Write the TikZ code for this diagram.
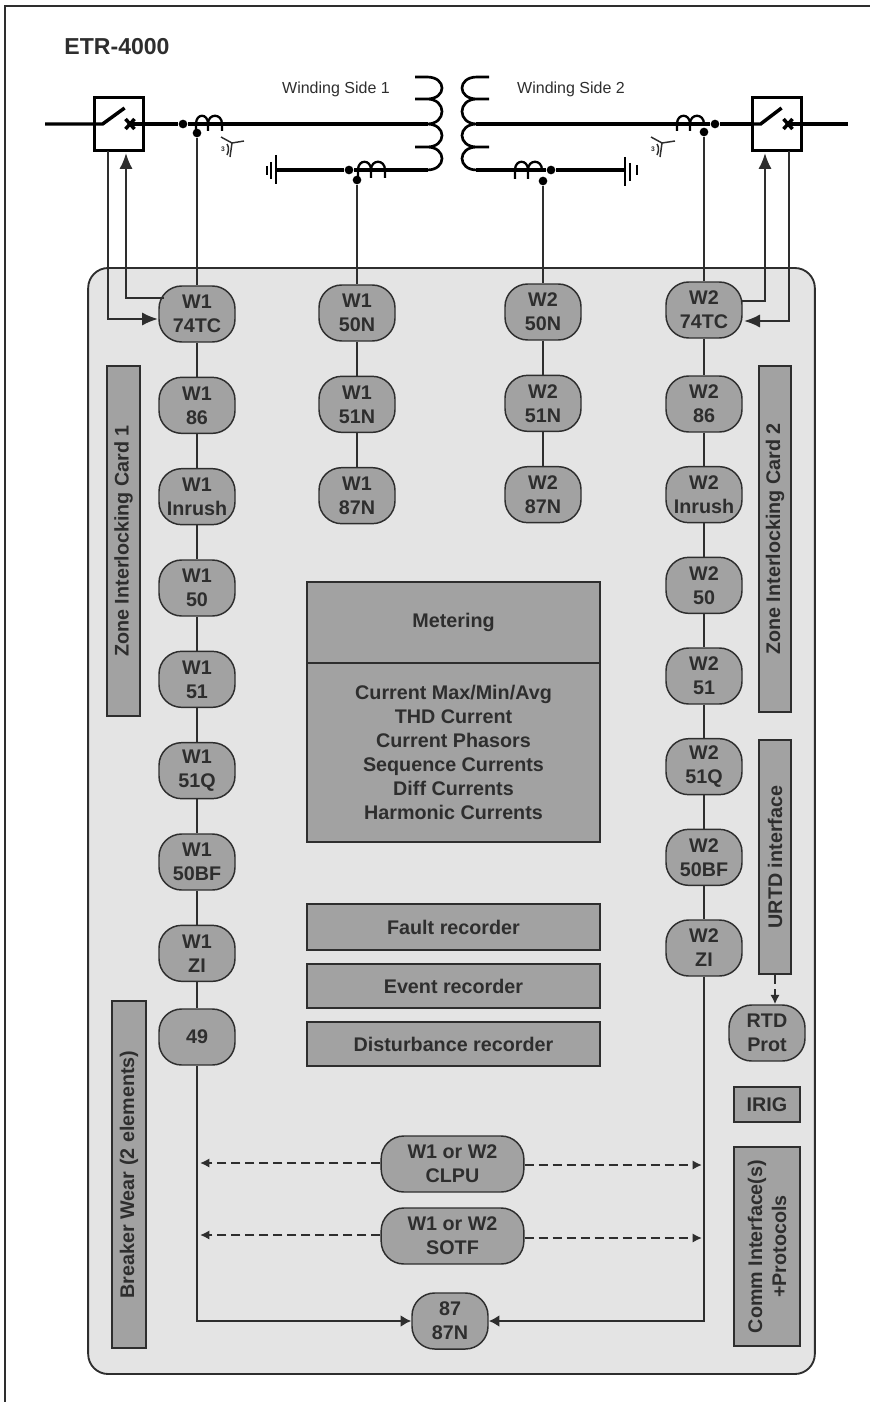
\documentclass[tikz,border=0pt]{standalone}
\usepackage{fontspec}
\setmainfont{Liberation Sans}
\usepackage{xcolor}
\usetikzlibrary{arrows.meta}
\definecolor{ink}{HTML}{2E2E2E}
\definecolor{boxgray}{HTML}{A2A2A2}
\definecolor{panelgray}{HTML}{E4E4E4}

\begin{document}
\begin{tikzpicture}[x=0.75pt, y=-0.75pt, node distance=68.5pt, color=ink, text=ink]
    \tikzstyle{relay} = [rectangle, rounded corners=17pt, minimum width=57pt, minimum height=42pt, inner sep=0pt, align=center, draw=ink, fill=boxgray, line width=1.1pt, font=\fontsize{14.8}{18}\selectfont\bfseries]
    \tikzstyle{wide} = [relay, minimum width=107pt]
    \tikzstyle{card} = [rectangle, inner sep=0pt, align=center, draw=ink, fill=boxgray, line width=1.6pt, font=\fontsize{14.8}{18}\selectfont\bfseries]
    \tikzstyle{breaker} = [rectangle, draw=black, fill=white, line width=2.6pt, minimum width=37pt, minimum height=40pt, inner sep=0pt]
    \tikzstyle{dot} = [circle, fill=black, inner sep=0pt, minimum size=6.5pt]
    \tikzstyle{label} = [inner sep=0pt, font=\fontsize{12}{14}\selectfont]
    \tikzstyle{bus} = [black, line width=2.6pt]
    \tikzstyle{coil} = [black, line width=2pt]
    \tikzstyle{wire} = [ink, line width=1.6pt]
    \tikzstyle{arrow} = [wire, -{Latex[length=12pt,width=10pt]}]
    \tikzstyle{diffarrow} = [wire, -{Latex[length=8pt,width=9pt]}]
    \tikzstyle{dasharrow} = [ink, line width=1.5pt, dash pattern=on 7pt off 3.5pt, -{Latex[length=7pt,width=7pt]}]

    \useasboundingbox (0,0) rectangle (870,1402);
    % page frame
    \coordinate (frameA) at (5,1402);
    \coordinate (frameB) at (5,6);
    \coordinate (frameC) at (870,6);
    \draw [ink, line width=1pt] (frameA) -- (frameB) -- (frameC);
    \node (title) [inner sep=0pt, font=\fontsize{17.3}{20}\selectfont\bfseries] at (117,47) {ETR-4000};

    % relay panel
    \node (panel) [rectangle, rounded corners=15pt, draw=ink, fill=panelgray, line width=1.4pt, minimum width=545pt, minimum height=829.5pt, inner sep=0pt] at (451.5,821) {};

    % winding 1 column
    \node (wAtc) [relay] at (197,314) {W1\\74TC};
    \node (wAeightsix) [relay, below of=wAtc] {W1\\86};
    \node (wAinrush) [relay, below of=wAeightsix] {W1\\Inrush};
    \node (wAfifty) [relay, below of=wAinrush] {W1\\50};
    \node (wAfiftyone) [relay, below of=wAfifty] {W1\\51};
    \node (wAq) [relay, below of=wAfiftyone] {W1\\51Q};
    \node (wAbf) [relay, below of=wAq] {W1\\50BF};
    \node (wAzi) [relay, below of=wAbf] {W1\\ZI};
    \node (thermal) [relay] at (197,1037) {49};

    % neutral columns
    \node (wAn) [relay] at (357,313) {W1\\50N};
    \node (wAnt) [relay, below of=wAn] {W1\\51N};
    \node (wAnd) [relay, below of=wAnt] {W1\\87N};
    \node (wBn) [relay] at (543,312) {W2\\50N};
    \node (wBnt) [relay, below of=wBn] {W2\\51N};
    \node (wBnd) [relay, below of=wBnt] {W2\\87N};

    % winding 2 column
    \node (wBtc) [relay] at (704,310) {W2\\74TC};
    \begin{scope}[node distance=68pt]
    \node (wBeightsix) [relay] at (704,404) {W2\\86};
    \node (wBinrush) [relay, below of=wBeightsix] {W2\\Inrush};
    \node (wBfifty) [relay, below of=wBinrush] {W2\\50};
    \node (wBfiftyone) [relay, below of=wBfifty] {W2\\51};
    \node (wBq) [relay, below of=wBfiftyone] {W2\\51Q};
    \node (wBbf) [relay, below of=wBq] {W2\\50BF};
    \node (wBzi) [relay, below of=wBbf] {W2\\ZI};
    \end{scope}
    \node (rtd) [relay] at (767,1033) {RTD\\Prot};

    % side cards
    \node (zoneA) [card, rotate=90, minimum width=262.5pt, minimum height=24.5pt] at (123.5,541) {Zone Interlocking Card 1};
    \node (zoneB) [card, rotate=90, minimum width=259.5pt, minimum height=24pt] at (775,539) {Zone Interlocking Card 2};
    \node (urtd) [card, rotate=90, minimum width=175.5pt, minimum height=24pt] at (775,857) {URTD interface};
    \node (wear) [card, rotate=90, minimum width=260pt, minimum height=25.5pt] at (129,1174.5) {Breaker Wear (2 elements)};
    \node (irig) [card, minimum width=49.5pt, minimum height=26pt] at (767,1104.5) {IRIG};
    \node (comm) [card, rotate=90, minimum width=149pt, minimum height=49.5pt] at (767,1246.5) {Comm Interface(s)\\+Protocols};

    % centre blocks
    \node (meter) [card, minimum width=219.5pt, minimum height=61pt] at (453.5,622.5) {Metering};
    \node (meterlist) [card, minimum width=219.5pt, minimum height=134pt] at (453.5,752.5) {Current Max/Min/Avg\\THD Current\\Current Phasors\\Sequence Currents\\Diff Currents\\Harmonic Currents};
    \node (fault) [card, minimum width=219.5pt, minimum height=34.5pt] at (453.5,927) {Fault recorder};
    \node (event) [card, minimum width=219.5pt, minimum height=33pt] at (453.5,986) {Event recorder};
    \node (dist) [card, minimum width=219.5pt, minimum height=33pt] at (453.5,1044) {Disturbance recorder};

    \node (clpu) [wide] at (452.5,1164) {W1 or W2\\CLPU};
    \node (sotf) [wide] at (452.5,1236) {W1 or W2\\SOTF};
    \node (diff) [relay] at (450,1321) {87\\87N};

    % power side
    \node (brkA) [breaker] at (119,124) {};
    \node (brkB) [breaker] at (777,124) {};
    \node (dotA) [dot] at (183,124) {};
    \node (ctA) [dot] at (197,133) {};
    \node (dotB) [dot] at (715,124) {};
    \node (ctB) [dot] at (704,132) {};
    \node (dotC) [dot] at (349,170) {};
    \node (ctC) [dot] at (357,180) {};
    \node (dotD) [dot] at (551,170) {};
    \node (ctD) [dot] at (543,181) {};
    \node (sideA) [label] at (336,89) {Winding Side 1};
    \node (sideB) [label] at (571,89) {Winding Side 2};

    \coordinate (busA) at (45,124);
    \coordinate (busB) at (848,124);
    \coordinate (tripA) at (130,124);
    \coordinate (tripB) at (788,124);
    \coordinate (wdgA) at (428,124);
    \coordinate (wdgB) at (476,124);
    \coordinate (wdgC) at (428,170);
    \coordinate (wdgD) at (476,170);
    \coordinate (gndA) at (275.5,170);
    \coordinate (gndB) at (625,170);

    \draw [bus] (busA) -- (brkA.west) -- ++(10,0) -- ++(22,-16);
    \draw [bus] (tripA) -- (dotA) -- (wdgA);
    \draw [bus] (wdgC) -- (dotC) -- (gndA);
    \draw [bus] (busB) -- (tripB);
    \draw [bus] (brkB.west) -- ++(10,0) -- ++(21,-16);
    \draw [bus] (brkB.west) -- (dotB) -- (wdgB);
    \draw [bus] (wdgD) -- (dotD) -- (gndB);
    \draw [bus] (125.5,119) -- (134.5,129) (125.5,129) -- (134.5,119);
    \draw [bus] (783.5,119) -- (792.5,129) (783.5,129) -- (792.5,119);

    % transformer
    \draw [coil] (415,77) -- (427,77) .. controls (447,77) and (447,99) .. (427,99) -- (415,99)
        (427,99) .. controls (447,99) and (447,124) .. (427,124)
        .. controls (447,124) and (447,147) .. (427,147) -- (415,147)
        (427,147) .. controls (447,147) and (447,170) .. (427,170);
    \draw [coil] (489,77) -- (477,77) .. controls (457,77) and (457,99) .. (477,99) -- (489,99)
        (477,99) .. controls (457,99) and (457,124) .. (477,124)
        .. controls (457,124) and (457,147) .. (477,147) -- (489,147)
        (477,147) .. controls (457,147) and (457,170) .. (477,170);

    % current transformers
    \draw [coil, line width=1.7pt] (196,131) -- (196,124) .. controls (196,113) and (208,113) .. (208,124) -- (208,131)
        (208,124) .. controls (208,113) and (222,113) .. (222,124) -- (222,131);
    \draw [coil, line width=1.7pt] (677,131) -- (677,124) .. controls (677,113) and (690,113) .. (690,124) -- (690,131)
        (690,124) .. controls (690,113) and (704,113) .. (704,124);
    \draw [coil, line width=1.7pt] (358,178) -- (358,170) .. controls (358,159) and (371,159) .. (371,170) -- (371,178)
        (371,170) .. controls (371,159) and (385,159) .. (385,170) -- (385,178);
    \draw [coil, line width=1.7pt] (515,179) -- (515,170) .. controls (515,159) and (528,159) .. (528,170) -- (528,179)
        (528,170) .. controls (528,159) and (542,159) .. (542,170);

    % grounds
    \draw [coil, line width=1.7pt] (276,155) -- (276,184) (271,162) -- (271,179) (267,166) -- (267,175);
    \draw [coil, line width=1.7pt] (625,157) -- (625,186) (630,163) -- (630,181) (637,165) -- (637,175);

    % star symbols
    \draw [ink, line width=1.1pt] (221,137) -- (232,143) -- (244,141) (232,143) -- (230,157) (227,144) .. controls (229,147) and (229,151) .. (227,155);
    \draw [ink, line width=1.1pt] (651,137) -- (662,143) -- (675,141) (662,143) -- (660,157) (657,144) .. controls (659,147) and (659,151) .. (657,155);
    \node (starA) [inner sep=0pt, font=\fontsize{5}{6}\selectfont\bfseries] at (223,149) {3};
    \node (starB) [inner sep=0pt, font=\fontsize{5}{6}\selectfont\bfseries] at (653,149) {3};

    % secondary wiring
    \draw [wire] (ctA) -- (wAtc);
    \draw [wire] (ctC) -- (wAn);
    \draw [wire] (ctD) -- (wBn);
    \draw [wire] (ctB) -- (wBtc);
    \coordinate (offA) at (108,151);
    \coordinate (onA) at (126,153);
    \coordinate (onB) at (765,153);
    \coordinate (offB) at (789,151);
    \coordinate (closeA) at (158,319);
    \coordinate (tripInA) at (164,298);
    \coordinate (tripInB) at (741,301);
    \coordinate (closeB) at (744,321);
    \draw [arrow] (offA) |- (closeA);
    \draw [arrow] (tripInA) -| (onA);
    \draw [arrow] (tripInB) -| (onB);
    \draw [arrow] (offB) |- (closeB);

    % relay chains
    \draw [wire] (wAtc) -- (wAeightsix);
    \draw [wire] (wAeightsix) -- (wAinrush);
    \draw [wire] (wAinrush) -- (wAfifty);
    \draw [wire] (wAfifty) -- (wAfiftyone);
    \draw [wire] (wAfiftyone) -- (wAq);
    \draw [wire] (wAq) -- (wAbf);
    \draw [wire] (wAbf) -- (wAzi);
    \draw [wire] (wAzi) -- (thermal);
    \draw [wire] (wAn) -- (wAnt);
    \draw [wire] (wAnt) -- (wAnd);
    \draw [wire] (wBn) -- (wBnt);
    \draw [wire] (wBnt) -- (wBnd);
    \draw [wire] (wBtc) -- (wBeightsix);
    \draw [wire] (wBeightsix) -- (wBinrush);
    \draw [wire] (wBinrush) -- (wBfifty);
    \draw [wire] (wBfifty) -- (wBfiftyone);
    \draw [wire] (wBfiftyone) -- (wBq);
    \draw [wire] (wBq) -- (wBbf);
    \draw [wire] (wBbf) -- (wBzi);
    \draw [diffarrow] (thermal.south) |- (diff.west);
    \draw [diffarrow] (wBzi.south) |- (diff.east);

    % dashed links
    \coordinate (clpuA) at (200,1163);
    \coordinate (clpuB) at (702,1165);
    \coordinate (sotfA) at (200,1235);
    \coordinate (sotfB) at (702,1238);
    \draw [dasharrow] (clpu.west |- clpuA) -- (clpuA);
    \draw [dasharrow] (clpu.east |- clpuB) -- (clpuB);
    \draw [dasharrow] (sotf.west |- sotfA) -- (sotfA);
    \draw [dasharrow] (sotf.east |- sotfB) -- (sotfB);
    \draw [dasharrow] (urtd.west) -- (urtd.west |- rtd.north);
\end{tikzpicture}
\end{document}
